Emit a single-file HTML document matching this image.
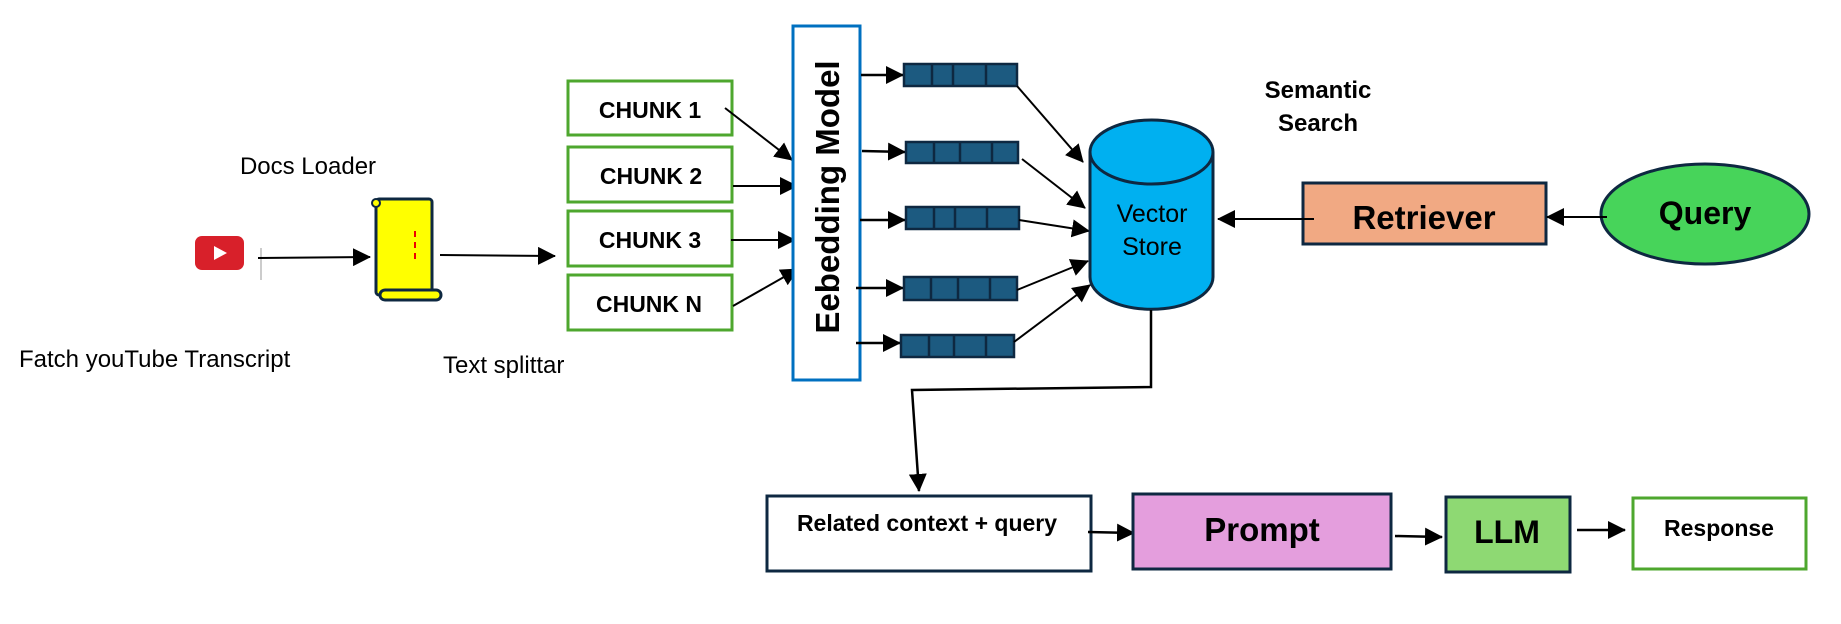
<!DOCTYPE html>
<html><head><meta charset="utf-8"><style>
html,body{margin:0;padding:0;background:#fff;}
svg{display:block;}
text{font-family:"Liberation Sans",sans-serif;}
</style></head><body>
<svg width="1841" height="624" viewBox="0 0 1841 624" xmlns="http://www.w3.org/2000/svg">
<defs>
<marker id="b" markerWidth="18" markerHeight="18" refX="17" refY="9" orient="auto" markerUnits="userSpaceOnUse" viewBox="0 0 18 18">
<path d="M0,0 L18,9 L0,18 z" fill="#000"/></marker>
</defs>

<!-- youtube -->
<rect x="195" y="236" width="49" height="34" rx="7" fill="#d8202a"/>
<path d="M214,246 L227,253 L214,260 z" fill="#fff"/>
<line x1="261" y1="248" x2="261" y2="280" stroke="#999" stroke-width="1"/>
<line x1="258" y1="258" x2="370" y2="257" stroke="#000" stroke-width="2" marker-end="url(#b)"/>

<!-- scroll -->
<rect x="376" y="199" width="56" height="96" fill="#ffff00" stroke="#0e2841" stroke-width="3" rx="3"/>
<rect x="380" y="290" width="61" height="10" rx="5" fill="#ffff00" stroke="#0e2841" stroke-width="3"/>
<circle cx="376" cy="203" r="4" fill="#ffff00" stroke="#0e2841" stroke-width="2"/>
<line x1="415" y1="231" x2="415" y2="263" stroke="#e00" stroke-width="2" stroke-dasharray="6,5"/>
<line x1="440" y1="255" x2="555" y2="256" stroke="#000" stroke-width="2" marker-end="url(#b)"/>

<text x="308" y="174" font-size="24" text-anchor="middle">Docs Loader</text>
<text x="19" y="367" font-size="24">Fatch youTube Transcript</text>
<text x="443" y="373" font-size="24">Text splittar</text>

<!-- chunks -->
<g fill="#fff" stroke="#4ea72e" stroke-width="3">
<rect x="568" y="81" width="164" height="54"/>
<rect x="568" y="147" width="164" height="55"/>
<rect x="568" y="211" width="164" height="55"/>
<rect x="568" y="275" width="164" height="55"/>
</g>
<g font-size="23" font-weight="bold" text-anchor="middle">
<text x="650" y="118">CHUNK 1</text>
<text x="651" y="184">CHUNK 2</text>
<text x="650" y="248">CHUNK 3</text>
<text x="649" y="312">CHUNK N</text>
</g>
<g stroke="#000" stroke-width="2">
<line x1="725" y1="108" x2="792" y2="160" marker-end="url(#b)"/>
<line x1="733" y1="186" x2="797" y2="186" marker-end="url(#b)"/>
<line x1="731" y1="240" x2="795" y2="240" marker-end="url(#b)"/>
<line x1="733" y1="306" x2="798" y2="269" marker-end="url(#b)"/>
</g>

<!-- embedding -->
<rect x="793" y="26" width="67" height="354" fill="#fff" stroke="#0070c0" stroke-width="3"/>
<text transform="translate(839,197) rotate(-90)" font-size="33" font-weight="bold" text-anchor="middle">Eebedding Model</text>

<g stroke="#000" stroke-width="2.5">
<line x1="861" y1="75" x2="903" y2="75" marker-end="url(#b)"/>
<line x1="862" y1="151" x2="905" y2="152" marker-end="url(#b)"/>
<line x1="860" y1="220" x2="905" y2="220" marker-end="url(#b)"/>
<line x1="856" y1="288" x2="903" y2="288" marker-end="url(#b)"/>
<line x1="856" y1="343" x2="900" y2="343" marker-end="url(#b)"/>
</g>

<!-- vectors -->
<g fill="#1c5a80" stroke="#0e2841" stroke-width="2.5">
<rect x="904" y="64" width="113" height="22"/>
<rect x="906" y="142" width="112" height="21"/>
<rect x="906" y="207" width="113" height="22"/>
<rect x="904" y="277" width="113" height="23"/>
<rect x="901" y="335" width="113" height="22"/>
</g>
<g stroke="#0e2841" stroke-width="2.5">
<line x1="932" y1="64" x2="932" y2="86"/><line x1="953" y1="64" x2="953" y2="86"/><line x1="986" y1="64" x2="986" y2="86"/>
<line x1="934" y1="142" x2="934" y2="163"/><line x1="960" y1="142" x2="960" y2="163"/><line x1="992" y1="142" x2="992" y2="163"/>
<line x1="934" y1="207" x2="934" y2="229"/><line x1="955" y1="207" x2="955" y2="229"/><line x1="987" y1="207" x2="987" y2="229"/>
<line x1="931" y1="277" x2="931" y2="300"/><line x1="958" y1="277" x2="958" y2="300"/><line x1="990" y1="277" x2="990" y2="300"/>
<line x1="929" y1="335" x2="929" y2="357"/><line x1="954" y1="335" x2="954" y2="357"/><line x1="986" y1="335" x2="986" y2="357"/>
</g>

<g stroke="#000" stroke-width="2">
<line x1="1017" y1="86" x2="1083" y2="162" marker-end="url(#b)"/>
<line x1="1022" y1="159" x2="1085" y2="208" marker-end="url(#b)"/>
<line x1="1019" y1="220" x2="1089" y2="231" marker-end="url(#b)"/>
<line x1="1017" y1="290" x2="1088" y2="261" marker-end="url(#b)"/>
<line x1="1014" y1="342" x2="1090" y2="285" marker-end="url(#b)"/>
</g>

<!-- cylinder -->
<path d="M1090,152 L1090,277 A61,32 0 0 0 1213,277 L1213,152" fill="#00b0f0" stroke="#0e2841" stroke-width="3"/>
<ellipse cx="1151.5" cy="152" rx="61.5" ry="32" fill="#00b0f0" stroke="#0e2841" stroke-width="3"/>
<text x="1152" y="222" font-size="25" text-anchor="middle">Vector</text>
<text x="1152" y="255" font-size="25" text-anchor="middle">Store</text>

<polyline points="1151,310 1151,387 912,390 919,491" fill="none" stroke="#000" stroke-width="2.5" marker-end="url(#b)"/>

<text x="1318" y="98" font-size="24" font-weight="bold" text-anchor="middle">Semantic</text>
<text x="1318" y="131" font-size="24" font-weight="bold" text-anchor="middle">Search</text>

<!-- retriever -->
<rect x="1303" y="183" width="243" height="61" fill="#f1a983" stroke="#0e2841" stroke-width="3"/>
<text x="1424" y="229" font-size="33" font-weight="bold" text-anchor="middle">Retriever</text>
<line x1="1314" y1="219" x2="1218" y2="219" stroke="#000" stroke-width="2" marker-end="url(#b)"/>

<ellipse cx="1705" cy="214" rx="104" ry="50" fill="#47d45a" stroke="#0e2841" stroke-width="3"/>
<text x="1705" y="224" font-size="32" font-weight="bold" text-anchor="middle">Query</text>
<line x1="1607" y1="217" x2="1547" y2="217" stroke="#000" stroke-width="2" marker-end="url(#b)"/>

<!-- bottom row -->
<rect x="767" y="496" width="324" height="75" fill="#fff" stroke="#0e2841" stroke-width="3"/>
<text x="927" y="531" font-size="23" font-weight="bold" text-anchor="middle">Related context + query</text>
<line x1="1088" y1="532" x2="1134" y2="533" stroke="#000" stroke-width="2.5" marker-end="url(#b)"/>

<rect x="1133" y="494" width="258" height="75" fill="#e49edd" stroke="#0e2841" stroke-width="3"/>
<text x="1262" y="541" font-size="33" font-weight="bold" text-anchor="middle">Prompt</text>
<line x1="1395" y1="536" x2="1442" y2="537" stroke="#000" stroke-width="2.5" marker-end="url(#b)"/>

<rect x="1446" y="497" width="124" height="75" fill="#8ed973" stroke="#0e2841" stroke-width="3"/>
<text x="1507" y="543" font-size="32" font-weight="bold" text-anchor="middle">LLM</text>
<line x1="1577" y1="530" x2="1625" y2="530" stroke="#000" stroke-width="2.5" marker-end="url(#b)"/>

<rect x="1633" y="498" width="173" height="71" fill="#fff" stroke="#4ea72e" stroke-width="3"/>
<text x="1719" y="536" font-size="23" font-weight="bold" text-anchor="middle">Response</text>
</svg>
</body></html>
